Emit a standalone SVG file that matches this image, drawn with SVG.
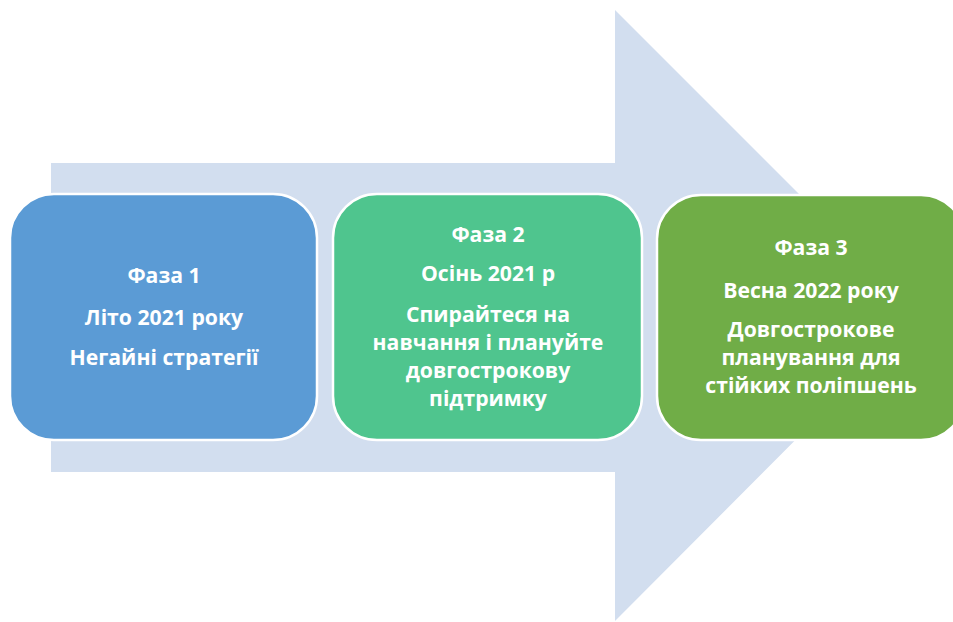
<svg xmlns="http://www.w3.org/2000/svg" width="953" height="622" viewBox="0 0 953 622">
<style>
.box{stroke:#FFFFFF;stroke-width:2.5}
.t{font-family:"Open Sans","Liberation Sans",sans-serif;font-weight:bold;font-size:21.2px;fill:#FFFFFF;text-anchor:middle}
</style>
<rect width="953" height="622" fill="#FFFFFF"/>
<g id="arrow">
<polygon points="51,163 615,163 615,10 920,315 615,621 615,472 51,472" fill="#D2DEEF"/>
</g>
<g id="connectors"></g>
<g id="phase1">
<rect class="box" x="10" y="194" width="307" height="246" rx="44" fill="#5B9BD5"/>
<text class="t" x="164" y="283">Фаза 1</text>
<text class="t" x="164" y="325">Літо 2021 року</text>
<text class="t" x="164" y="365">Негайні стратегії</text>
</g>
<g id="phase2">
<rect class="box" x="333" y="194" width="309" height="246" rx="44" fill="#4FC58E"/>
<text class="t" x="488" y="242">Фаза 2</text>
<text class="t" x="488" y="281">Осінь 2021 р</text>
<text class="t" x="488" y="322">Спирайтеся на</text>
<text class="t" x="488" y="350">навчання і плануйте</text>
<text class="t" x="488" y="378">довгострокову</text>
<text class="t" x="488" y="406">підтримку</text>
</g>
<g id="phase3">
<rect class="box" x="657" y="195" width="308" height="245" rx="44" fill="#70AD47"/>
<text class="t" x="811" y="255">Фаза 3</text>
<text class="t" x="811" y="298">Весна 2022 року</text>
<text class="t" x="811" y="337">Довгострокове</text>
<text class="t" x="811" y="365">планування для</text>
<text class="t" x="811" y="393">стійких поліпшень</text>
</g>
</svg>
